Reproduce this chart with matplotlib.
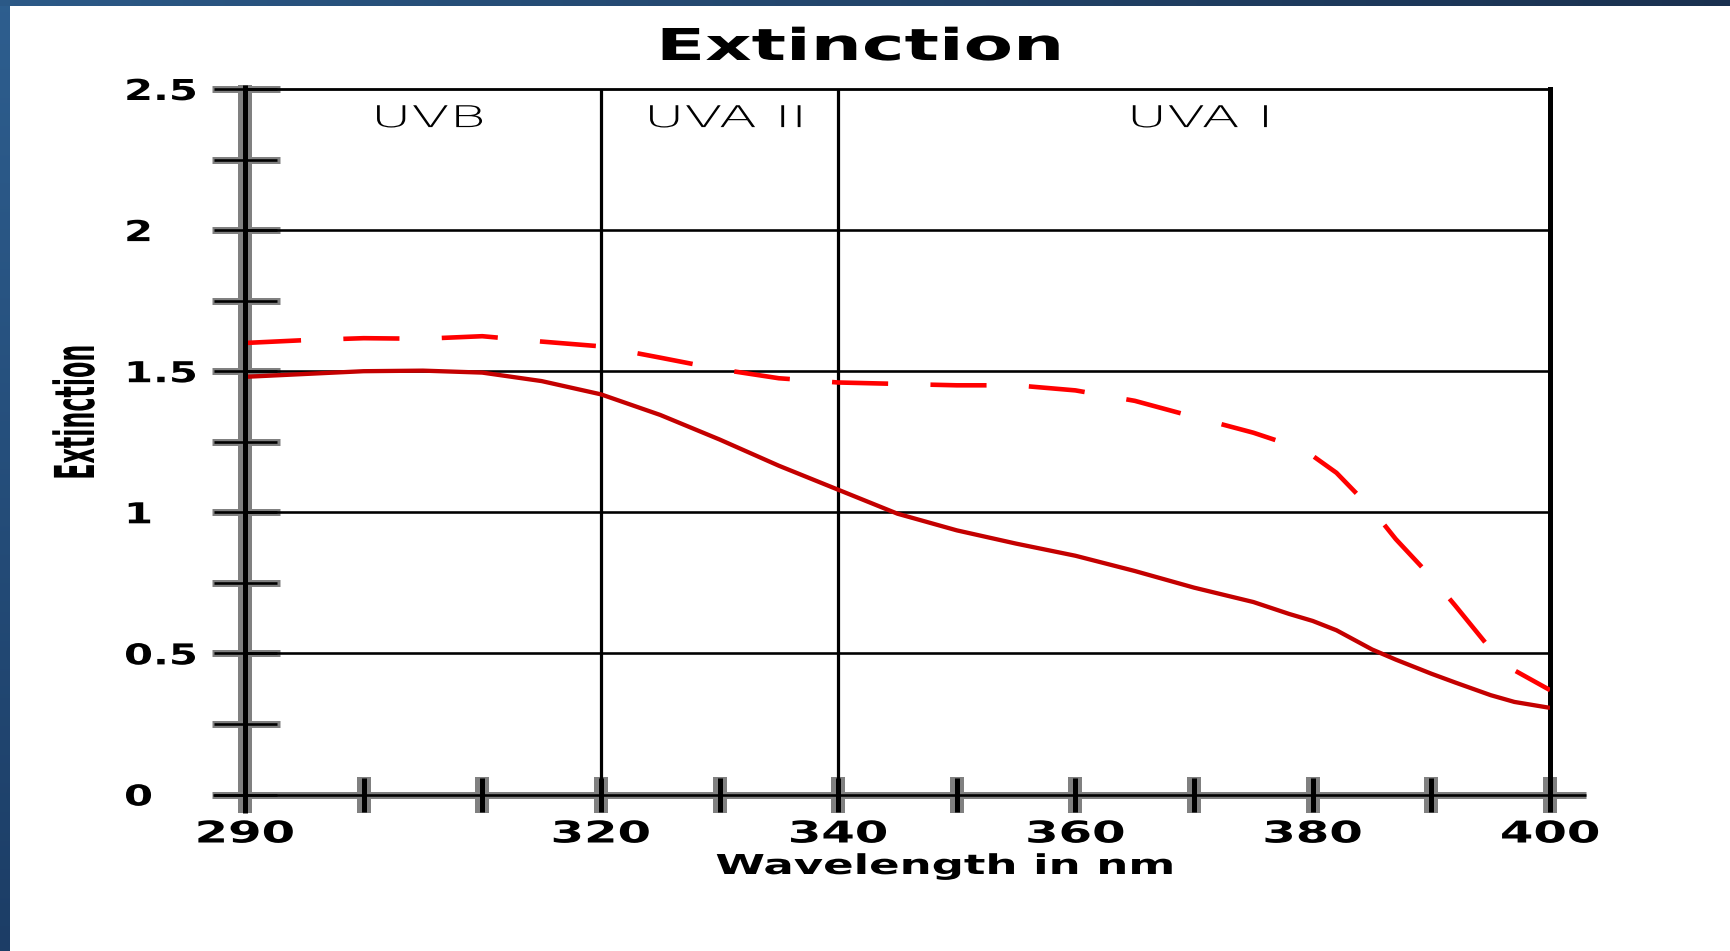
import numpy as np
import matplotlib
matplotlib.use("Agg")
import matplotlib.pyplot as plt
from matplotlib.patheffects import AbstractPathEffect
from matplotlib.transforms import Affine2D
from matplotlib.textpath import TextPath
from matplotlib.font_manager import FontProperties

# ---------------- data ----------------
wavelength = [290, 295, 300, 305, 310, 315, 320, 325, 330, 335, 340, 345, 350,
              355, 360, 365, 370, 375, 378, 380, 382, 385, 387, 390, 392, 395,
              397, 400]
extinction_solid = [1.480, 1.490, 1.500, 1.502, 1.495, 1.465, 1.418, 1.345,
                    1.258, 1.165, 1.080, 0.995, 0.936, 0.889, 0.846, 0.792,
                    0.733, 0.682, 0.640, 0.615, 0.582, 0.514, 0.478, 0.428,
                    0.397, 0.352, 0.328, 0.307]
extinction_dashed = [1.600, 1.610, 1.617, 1.615, 1.624, 1.605, 1.588, 1.548,
                     1.507, 1.475, 1.460, 1.455, 1.450, 1.450, 1.432, 1.395,
                     1.338, 1.282, 1.240, 1.200, 1.140, 1.010, 0.905, 0.770,
                     0.670, 0.515, 0.440, 0.370]
xtick_values = [290, 300, 310, 320, 330, 340, 350, 360, 370, 380, 390, 400]
xtick_labels = ["290", "", "", "320", "", "340", "", "360", "", "380", "", "400"]
ytick_values = [0, 0.25, 0.5, 0.75, 1.0, 1.25, 1.5, 1.75, 2.0, 2.25, 2.5]
ytick_labels = ["0", "", "0.5", "", "1", "", "1.5", "", "2", "", "2.5"]
hgrid_values = [0.5, 1.0, 1.5, 2.0]
region_bounds = [290, 320, 340, 400]
region_names = ["UVB", "UVA II", "UVA I"]
title_text = "Extinction"
xlabel_text = "Wavelength in nm"
ylabel_text = "Extinction"

# ---------------- helpers ----------------
W, H, DPI = 1731, 951, 100


def px2pt(p):
    return p * 72.0 / DPI


class Stretch(AbstractPathEffect):
    """Draw text glyphs stretched horizontally (text stays a Text object)."""

    def __init__(self, sx, anchor="center"):
        super().__init__()
        self.sx = sx
        self.anchor = anchor

    def draw_path(self, renderer, gc, tpath, affine, rgbFace=None):
        ext = tpath.get_extents()
        cx = 0.0 if self.anchor == "left" else 0.5 * (ext.x0 + ext.x1)
        t = Affine2D().translate(-cx, 0).scale(self.sx, 1.0).translate(cx, 0) + affine
        renderer.draw_path(gc, tpath, t, rgbFace)


def stretch_for(s, weight, size_px, target_px):
    fp = FontProperties(family="DejaVu Sans", weight=weight)
    w = TextPath((0, 0), s, size=size_px, prop=fp).get_extents().width
    return target_px / w


fig = plt.figure(figsize=(W / DPI, H / DPI), dpi=DPI)
fig.patch.set_facecolor("white")

# blue frame (left and top)
ax_l = fig.add_axes([0, 0, 10 / W, 1])
t = np.linspace(0, 1, 256)[:, None, None]
c1 = np.array([0.18, 0.37, 0.56])
c2 = np.array([0.11, 0.24, 0.40])
ax_l.imshow(c1 * (1 - t) + c2 * t, aspect="auto", interpolation="bilinear")
ax_l.axis("off")
ax_t = fig.add_axes([0, 1 - 6 / H, 1, 6 / H])
t2 = np.linspace(0, 1, 256)[None, :, None]
d1 = np.array([0.17, 0.35, 0.53])
d2 = np.array([0.10, 0.19, 0.31])
ax_t.imshow(d1 * (1 - t2) + d2 * t2, aspect="auto", interpolation="bilinear")
ax_t.axis("off")

# main axes
L, R, T, B = 245, 1550, 89, 794.5
ax = fig.add_axes([L / W, 1 - B / H, (R - L) / W, (B - T) / H])
ax.set_xlim(region_bounds[0], region_bounds[-1])
ax.set_ylim(0, 2.5)
for s in ax.spines.values():
    s.set_visible(False)

# curves
ax.plot(wavelength, extinction_solid, color="#c40000", lw=px2pt(4.3),
        zorder=3, solid_capstyle="butt", solid_joinstyle="round")
ax.plot(wavelength, extinction_dashed, color="#ff0000", lw=px2pt(4.6),
        ls=(0, (12.2, 9.2)), zorder=3, dash_capstyle="butt",
        dash_joinstyle="round")

# grid & frame
for v in hgrid_values:
    ax.axhline(v, color="black", lw=px2pt(2.6), zorder=2)
ax.axhline(2.5, color="black", lw=px2pt(2.8), zorder=2, clip_on=False)
for b in region_bounds[1:-1]:
    ax.axvline(b, color="black", lw=px2pt(3.2), zorder=2)
ax.axvline(region_bounds[-1], color="black", lw=px2pt(5), zorder=2, clip_on=False)

axh = B - T
axw = R - L
# left axis with halo
ax.axvline(region_bounds[0], ymin=-18.5 / axh, ymax=1 + 4 / axh, color="#808080",
           lw=px2pt(14), zorder=1.5, clip_on=False, solid_capstyle="butt")
ax.axvline(region_bounds[0], ymin=-18.5 / axh, ymax=1 + 4 / axh, color="black",
           lw=px2pt(5), zorder=4, clip_on=False, solid_capstyle="butt")
# x axis with halo
ax.axhline(0, xmin=-32 / axw, xmax=1 + 36 / axw, color="#808080", lw=px2pt(7),
           zorder=1.5, clip_on=False, solid_capstyle="butt")
ax.axhline(0, xmin=-32 / axw, xmax=1 + 36 / axw, color="black", lw=px2pt(2.6),
           zorder=4, clip_on=False, solid_capstyle="butt")

# tick halos
ytr = ax.get_yaxis_transform()
for v in ytick_values:
    ax.plot([-33 / axw, 35 / axw], [v, v], transform=ytr, color="#808080",
            lw=px2pt(7), zorder=1.5, clip_on=False, solid_capstyle="butt")
xtr = ax.get_xaxis_transform()
for v in xtick_values:
    ax.plot([v, v], [-18 / axh, 18 / axh], transform=xtr, color="#808080",
            lw=px2pt(14), zorder=1.5, clip_on=False, solid_capstyle="butt")

# ticks and labels
ax.set_xticks(xtick_values, labels=xtick_labels, fontsize=px2pt(30),
              fontweight="bold")
ax.tick_params(axis="x", direction="inout", length=px2pt(34), width=px2pt(5),
               pad=px2pt(8), colors="black")
ax.set_yticks(ytick_values, labels=ytick_labels, fontsize=px2pt(28.8),
              fontweight="bold", ha="left")
ax.tick_params(axis="y", direction="inout", length=px2pt(63), width=px2pt(2.6),
               pad=px2pt(89.5), colors="black")

sx_x = stretch_for("340", "bold", 30, 95)
for lab in ax.get_xticklabels():
    lab.set_path_effects([Stretch(sx_x)])
sx_y = stretch_for("0.5", "bold", 28.8, 69)
for lab in ax.get_yticklabels():
    lab.set_path_effects([Stretch(sx_y, anchor="left")])

# region names
sx_uv = stretch_for("UVB", "light", 30, 105)
for i, name in enumerate(region_names):
    xc = 0.5 * (region_bounds[i] + region_bounds[i + 1]) + 0.5
    ax.text(xc, 2.365, name, ha="center", va="baseline", fontsize=px2pt(30),
            fontweight="light", color="black", zorder=5,
            path_effects=[Stretch(sx_uv)])

# title and axis labels
sx_t = stretch_for(title_text, "bold", 43.9, 396)
fig.text(860 / W, 1 - 60 / H, title_text, ha="center", va="baseline",
         fontsize=px2pt(43.9), fontweight="bold", path_effects=[Stretch(sx_t)])
sx_xl = stretch_for(xlabel_text, "bold", 27.4, 455)
fig.text(944.5 / W, 1 - 874 / H, xlabel_text, ha="center", va="baseline",
         fontsize=px2pt(27.4), fontweight="bold", path_effects=[Stretch(sx_xl)])
sx_yl = stretch_for(ylabel_text, "bold", 55, 131)
fig.text(94 / W, 1 - 412.5 / H, ylabel_text, rotation=90, rotation_mode="anchor",
         ha="center", va="baseline", fontsize=px2pt(55), fontweight="bold",
         path_effects=[Stretch(sx_yl)])

fig.savefig("out.png", dpi=DPI)
